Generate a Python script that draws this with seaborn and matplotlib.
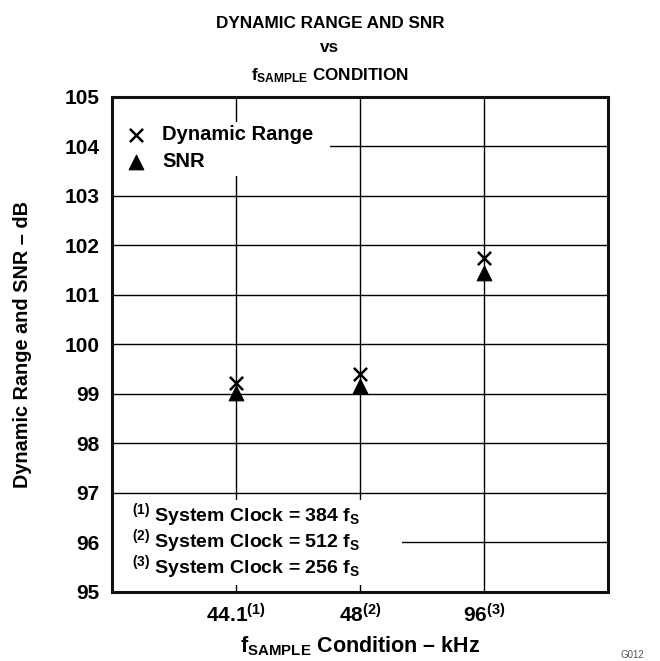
import matplotlib
matplotlib.use("Agg")
import matplotlib.pyplot as plt
from matplotlib.patches import Rectangle
import numpy as np
import pandas as pd
import seaborn as sns

sns.set_style("white")
plt.rcParams['font.family'] = ['Liberation Sans', 'DejaVu Sans']
plt.rcParams['font.weight'] = 'bold'
plt.rcParams['text.color'] = 'black'
plt.rcParams['axes.labelcolor'] = 'black'
plt.rcParams['xtick.color'] = 'black'
plt.rcParams['ytick.color'] = 'black'
plt.rcParams['mathtext.fontset'] = 'custom'
plt.rcParams['mathtext.rm'] = 'Liberation Sans:bold'
plt.rcParams['mathtext.it'] = 'Liberation Sans:bold'
plt.rcParams['mathtext.bf'] = 'Liberation Sans:bold'
plt.rcParams['mathtext.sf'] = 'Liberation Sans:bold'

# data
conditions = ['44.1$^{(1)}$', '48$^{(2)}$', '96$^{(3)}$']
cond_pos = [1, 2, 3]
dynamic_range = [99.23, 99.40, 101.75]
snr = [99.02, 99.17, 101.45]
footnotes = ['$^{(1)}$ System Clock = 384 f$_{S}$',
             '$^{(2)}$ System Clock = 512 f$_{S}$',
             '$^{(3)}$ System Clock = 256 f$_{S}$']

df_dr = pd.DataFrame({'x': cond_pos, 'y': dynamic_range})
df_snr = pd.DataFrame({'x': cond_pos, 'y': snr})

fig = plt.figure(figsize=(6.6, 6.61), dpi=100)
ax = fig.add_axes([0.1697, 0.1044, 0.7515, 0.7489])

sns.scatterplot(data=df_dr, x='x', y='y', marker='x', s=90, color='black',
                linewidth=1.8, label='Dynamic Range', ax=ax, zorder=4)
sns.scatterplot(data=df_snr, x='x', y='y', marker='^', s=110, color='black',
                edgecolor='black', label='SNR', ax=ax, zorder=3)

ax.set_xlim(0, 4)
ax.set_ylim(95, 105)
ax.set_xticks(cond_pos)
ax.set_xticklabels(conditions)
ax.set_yticks(np.arange(95, 106, 1))
ax.tick_params(axis='both', length=0, labelsize=15)
ax.tick_params(axis='x', pad=8)
ax.tick_params(axis='y', pad=9)
for lab in ax.get_yticklabels() + ax.get_xticklabels():
    lab.set_fontweight('bold')

ax.set_axisbelow(True)
ax.grid(True, color='black', linewidth=1.0)
for sp in ax.spines.values():
    sp.set_color('#111111')
    sp.set_linewidth(2.2)
    sp.set_zorder(6)

# white patches behind legend and footnote
ax.add_patch(Rectangle((0.0, 0.84), 0.44, 0.11, transform=ax.transAxes,
                       facecolor='white', edgecolor='none', zorder=1))
ax.add_patch(Rectangle((0.0, 0.014), 0.585, 0.172, transform=ax.transAxes,
                       facecolor='white', edgecolor='none', zorder=1))

leg = ax.legend(loc='upper left', bbox_to_anchor=(0.012, 0.96), frameon=False,
                borderaxespad=0, handlelength=1.0, handletextpad=0.8,
                labelspacing=0.42, prop={'weight': 'bold', 'size': 14.5})

for i, t in enumerate(footnotes):
    ax.text(0.04, 0.155 - i * 0.052, t, transform=ax.transAxes, fontsize=14,
            fontweight='bold', va='center', ha='left', zorder=5)

ax.set_xlabel('f$_{SAMPLE}$ Condition \u2013 kHz', fontsize=15.5,
              fontweight='bold', va='top')
ax.xaxis.set_label_coords(0.5, -0.086)
ax.set_ylabel('Dynamic Range and SNR \u2013 dB', fontsize=14.3,
              fontweight='bold')
ax.yaxis.set_label_coords(-0.161, 0.5)

fig.text(0.5, 0.9576, 'DYNAMIC RANGE AND SNR', ha='center', va='baseline',
         fontsize=12.3, fontweight='bold')
fig.text(0.5, 0.9213, 'vs', ha='center', va='baseline',
         fontsize=12.3, fontweight='bold')
fig.text(0.5, 0.879, 'f$_{SAMPLE}$ CONDITION', ha='center', va='baseline',
         fontsize=12.3, fontweight='bold')
fig.text(0.94, 0.002, 'G012', ha='left', va='bottom', fontsize=7,
         color='#555555', fontweight='normal')

fig.savefig('out.png', dpi=100)
